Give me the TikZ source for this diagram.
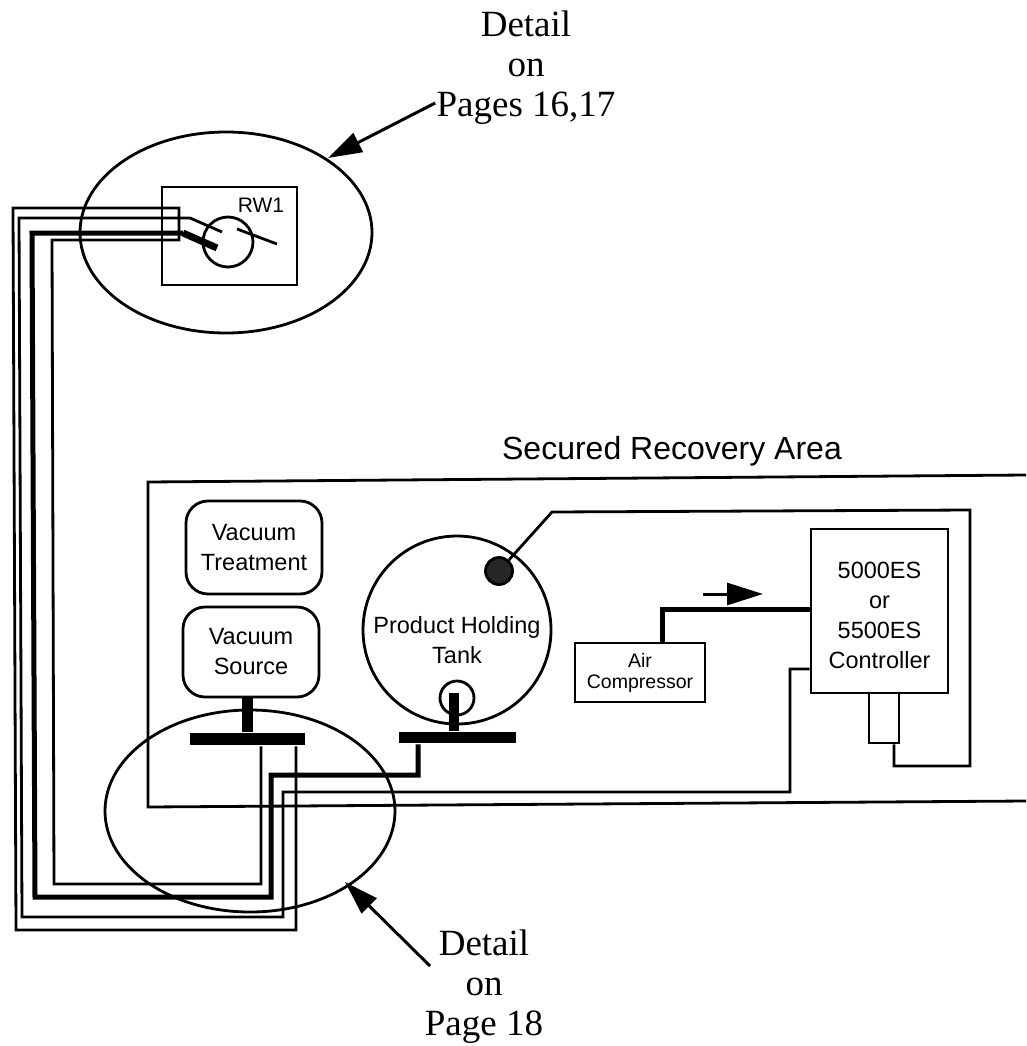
\documentclass[tikz,border=0pt]{standalone}
\usepackage{fontspec}
\setmainfont{Liberation Serif}
\setsansfont{Liberation Sans}
\usetikzlibrary{shapes.geometric, arrows.meta, positioning}

\begin{document}
\begin{tikzpicture}[
    x=1pt, y=-1pt,
    line width=2.8pt,
    detail/.style={align=center, inner sep=0pt, font=\fontsize{37}{40}\selectfont},
    label/.style={align=center, inner sep=0pt, font=\sffamily\fontsize{23.5}{30}\selectfont},
    box/.style={rectangle, draw=black, inner sep=0pt},
    vessel/.style={rounded corners=22pt, draw=black, inner sep=0pt, minimum width=136pt},
    bar/.style={rectangle, fill=black, inner sep=0pt},
    zone/.style={ellipse, draw=black, inner sep=0pt},
    port/.style={circle, draw=black, inner sep=0pt},
    wire/.style={line width=2.8pt},
    heavy/.style={line width=5pt},
    arrow/.style={line width=3pt, -{Triangle[length=34pt,width=21pt]}}
]
\useasboundingbox (0,0) rectangle (1026,1046);

% Detail circles
\node[zone, minimum width=292pt, minimum height=201pt] (topzone) at (226,232.5) {};
\node[zone, minimum width=290pt, minimum height=202pt] (lowzone) at (250,811) {};

% Secured area
\node[label, font=\sffamily\fontsize{32}{36}\selectfont] (area) at (672,451) {Secured Recovery Area};
\draw[wire] (1026,475) -- (148,482) -- (148,807) -- (1026,801);

% Well
\node[box, minimum width=135pt, minimum height=98pt] (well) at (229.5,236) {};
\node[port, minimum size=50pt] (wellhead) at (228,242) {};
\node[label, font=\sffamily\fontsize{21}{24}\selectfont] (rw1) at (261,205) {RW1};

% Vacuum parts
\node[vessel, minimum height=93pt, label] (treatment) at (254,547.5) {Vacuum\\Treatment};
\node[vessel, minimum height=90pt, label] (source) at (251,652) {Vacuum\\Source};
\node[bar, minimum width=115pt, minimum height=12pt] (sourcebar) at (247.5,739) {};
\draw[line width=11pt] (source.south) ++(-4,0) coordinate (sourcestem) -- (sourcestem |- sourcebar.north);

% Tank
\node[port, minimum size=188pt] (tank) at (457,630) {};
\node[label] (tanktext) at (457,640.5) {Product Holding\\Tank};
\node[port, fill=black!85, minimum size=27pt] (sensor) at (499,571) {};
\node[port, minimum size=34pt] (tankport) at (457,698) {};
\node[bar, minimum width=117pt, minimum height=11pt] (tankbar) at (457.5,737.5) {};
\coordinate (tanktop) at (454,693);
\draw[line width=10pt] (tanktop) -- (tanktop |- tankbar.north);

% Air compressor and controller
\node[box, minimum width=130pt, minimum height=59pt, label, font=\sffamily\fontsize{19.5}{21}\selectfont] (compressor) at (640,672.5) {Air\\Compressor};
\node[box, minimum width=137pt, minimum height=164pt, label] (controller) at (879.5,611) {};
\node[label] (controllertext) at (879.5,615.5) {5000ES\\or\\5500ES\\Controller};
\node[box, minimum width=30pt, minimum height=50pt] (regulator) at (884,718) {};
\coordinate (dirfrom) at (703,594);
\coordinate (dirto) at (763,594);
\draw[line width=3pt, -{Triangle[length=36pt,width=22pt]}] (dirfrom) -- (dirto);
\draw[heavy] (compressor.north -| 662,0) -- (662,609) -- (controller.west |- 0,609);

% Wires to the well
\coordinate (probe) at (222,232);
\coordinate (pump) at (217,248);
\draw[wire] (sourcebar.south -| 296,0) -- (296,930) -- (16,930) -- (13,208) -- (179,208) -- (179,240) -- (52,240) -- (54,884) -- (261,884) -- (sourcebar.south -| 261,0);
\draw[wire] (probe) -- (190,218) -- (19,218) -- (22,917) -- (283,917) -- (283,792) -- (790,792) -- (790,669) -- (controller.west |- 0,669);
\draw[heavy] (183,233) -- (32,233) -- (35,897) -- (271,897) -- (271,775) -- (418,775) -- (tankbar.south -| 418,0);
\draw[line width=7pt] (183,233) -- (pump);

% Wire to the sensor
\draw[wire] (sensor) -- (552,512) -- (970,510) -- (970,766) -- (894,766) -- (regulator.south -| 894,0);

% Wellhead ticks
\coordinate (tickfrom) at (237,229);
\coordinate (tickto) at (277,244);
\draw[wire] (tickfrom) -- (tickto);

% Detail labels
\node[detail] (uppernote) at (526,68) {Detail\\on\\Pages 16,17};
\node[detail] (lowernote) at (484,987) {Detail\\on\\Page 18};
\draw[arrow] (uppernote.west |- 0,103) -- (328,158);
\coordinate (lowerfrom) at (430,966);
\draw[arrow] (lowerfrom) -- (345,882);

\end{tikzpicture}
\end{document}
